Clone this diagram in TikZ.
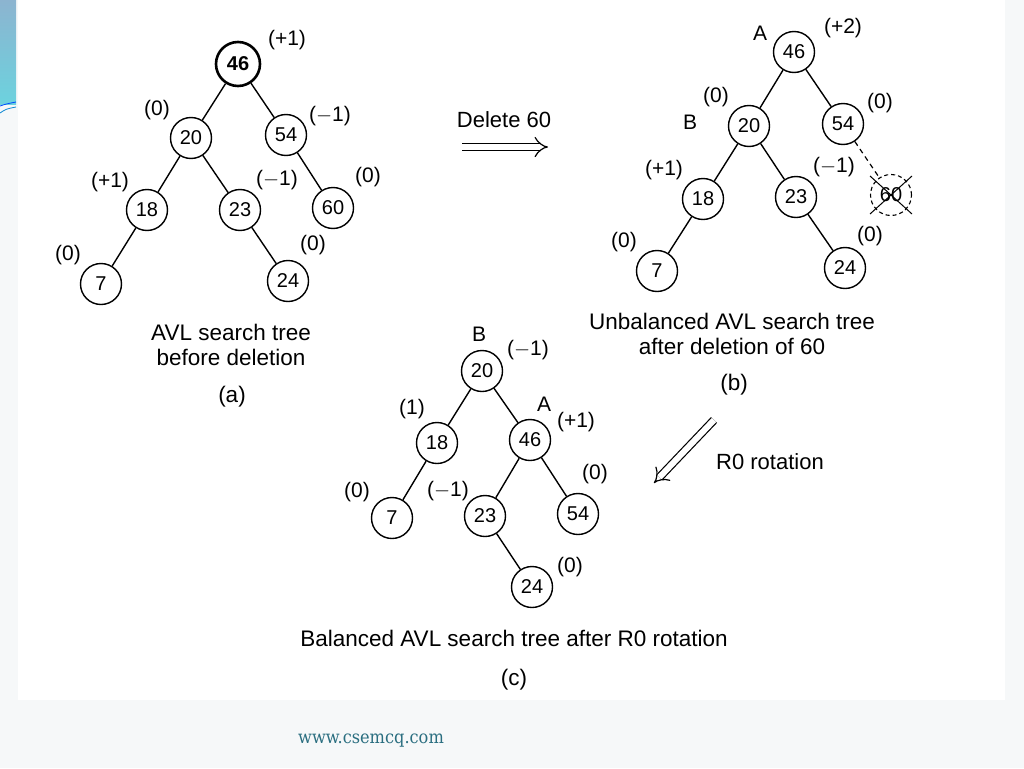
\documentclass[tikz,border=0pt]{standalone}
\usepackage{fontspec}
\setmainfont{Liberation Sans}
\newfontfamily\footfont{DejaVu Serif Condensed}
\usetikzlibrary{arrows.meta,calc}
\definecolor{teal1}{HTML}{2A6E80}
\definecolor{bgray}{HTML}{F6F8F9}
\definecolor{stripetop}{HTML}{8CB4D0}
\definecolor{stripebot}{HTML}{6CD2DE}
\tikzset{
  tn/.style={circle,draw,line width=1.4pt,minimum size=41pt,inner sep=0pt,font=\fontsize{20}{22}\selectfont},
  tnroot/.style={tn,line width=2.6pt,minimum size=44pt,font=\bfseries\fontsize{20}{22}\selectfont},
  tndel/.style={tn,dash pattern=on 4pt off 3pt,line width=1.1pt},
  bf/.style={font=\fontsize{21}{23}\selectfont,inner sep=1pt},
  captxt/.style={font=\fontsize{22.5}{25}\selectfont,align=center,inner sep=1pt},
  edge/.style={line width=1.4pt},
  dbl/.style={double,double distance=6pt,line width=1.2pt,-{Implies[length=9pt,width=16pt]}}
}
\begin{document}
\begin{tikzpicture}[x=1pt,y=-1pt]
\fill[bgray] (0,0) rectangle (1024,768);
\fill[white] (18,0) rectangle (1005,700);
\useasboundingbox (0,0) rectangle (1024,768);
% left stripe
\shade[top color=stripetop,bottom color=stripebot] (0,0) rectangle (16,104);
\draw[blue!70!cyan,line width=0.8pt] (0,106) .. controls (6,104) .. (16,102);
\draw[cyan!70!blue,line width=0.8pt] (0,113) .. controls (6,109) .. (16,107);

% ---------- tree (a)
\node[tnroot] (a46) at (238,64) {46};
\node[tn] (a20) at (191,138) {20};
\node[tn] (a54) at (286,135) {54};
\node[tn] (a18) at (147,210) {18};
\node[tn] (a23) at (240,210) {23};
\node[tn] (a60) at (333,208) {60};
\node[tn] (a7) at (101,284) {7};
\node[tn] (a24) at (288,281) {24};
\draw[edge] (a46)--(a20) (a46)--(a54) (a20)--(a18) (a20)--(a23) (a54)--(a60) (a18)--(a7) (a23)--(a24);
\node[bf] (la46) at (287,40) {(+1)};
\node[bf] (la20) at (157,110) {(0)};
\node[bf] (la54) at (330,116) {($-$1)};
\node[bf] (la18) at (110,182) {(+1)};
\node[bf] (la23) at (277,180) {($-$1)};
\node[bf] (la60) at (368,177) {(0)};
\node[bf] (la7) at (68,255) {(0)};
\node[bf] (la24) at (313,245) {(0)};
\node[captxt] (capa) at (231,345) {AVL search tree\\before deletion};
\node[captxt] (capa2) at (232,397) {(a)};

% ---------- delete arrow
\node[font=\fontsize{22}{24}\selectfont] (del) at (504,120) {Delete 60};
\coordinate (d1) at (462,147);
\coordinate (d2) at (548,147);
\draw[dbl] (d1)--(d2);

% ---------- tree (b)
\node[tn] (b46) at (794,52) {46};
\node[tn] (b20) at (749,126) {20};
\node[tn] (b54) at (843,124) {54};
\node[tn] (b18) at (703,199) {18};
\node[tn] (b23) at (796,197) {23};
\node[tndel] (b60) at (891,195) {60};
\node[tn] (b7) at (657,271) {7};
\node[tn] (b24) at (845,268) {24};
\draw[edge] (b46)--(b20) (b46)--(b54) (b20)--(b18) (b20)--(b23) (b18)--(b7) (b23)--(b24);
\draw[line width=1.2pt,dash pattern=on 5pt off 4pt] (b54)--(b60);
\draw[line width=1pt] ($(b60)+(-21,-19)$) -- ($(b60)+(21,19)$);
\draw[line width=1pt] ($(b60)+(21,-19)$) -- ($(b60)+(-21,19)$);
\node[bf] (lbA) at (760,33) {A};
\node[bf] (lb46) at (843,28) {(+2)};
\node[bf] (lbB) at (690,122) {B};
\node[bf] (lb20) at (716,97) {(0)};
\node[bf] (lb54) at (880,103) {(0)};
\node[bf] (lb18) at (664,170) {(+1)};
\node[bf] (lb23) at (834,167) {($-$1)};
\node[bf] (lb7) at (624,242) {(0)};
\node[bf] (lb24) at (870,236) {(0)};
\node[captxt] (capb) at (732,334) {Unbalanced AVL search tree\\after deletion of 60};
\node[captxt] (capb2) at (734,385) {(b)};

% ---------- R0 arrow
\coordinate (r1) at (714,420);
\coordinate (r2) at (654,483);
\draw[dbl] (r1)--(r2);
\node[font=\fontsize{22}{24}\selectfont] (rot) at (770,462) {R0 rotation};

% ---------- tree (c)
\node[tn] (c20) at (482,371) {20};
\node[tn] (c18) at (437,443) {18};
\node[tn] (c46) at (530,440) {46};
\node[tn] (c7) at (392,518) {7};
\node[tn] (c23) at (485,516) {23};
\node[tn] (c54) at (578,514) {54};
\node[tn] (c24) at (532,587) {24};
\draw[edge] (c20)--(c18) (c20)--(c46) (c18)--(c7) (c46)--(c23) (c46)--(c54) (c23)--(c24);
\node[bf] (lcB) at (479,334) {B};
\node[bf] (lc20) at (528,350) {($-$1)};
\node[bf] (lc18) at (412,409) {(1)};
\node[bf] (lcA) at (544,404) {A};
\node[bf] (lc46) at (576,422) {(+1)};
\node[bf] (lc7) at (357,492) {(0)};
\node[bf] (lc23) at (448,491) {($-$1)};
\node[bf] (lc54) at (595,474) {(0)};
\node[bf] (lc24) at (570,567) {(0)};
\node[captxt] (capc) at (514,638) {Balanced AVL search tree after R0 rotation};
\node[captxt] (capc2) at (514,680) {(c)};

% ---------- footer
\node[font=\footfont\fontsize{18}{20}\selectfont,text=teal1] (foot) at (371,741) {www.csemcq.com};
\end{tikzpicture}
\end{document}
